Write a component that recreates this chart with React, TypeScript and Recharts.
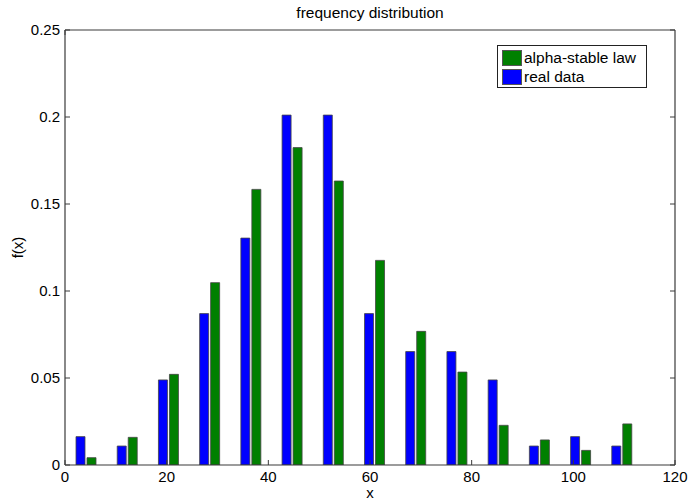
import React from 'react';
import { ComposedChart, Bar, XAxis, YAxis } from 'recharts';

const binCenters = [4.05, 12.16, 20.27, 28.37, 36.48, 44.59, 52.7, 60.81, 68.91, 77.02, 85.13, 93.24, 101.35, 109.45];
const realData = [0.0163, 0.0109, 0.0489, 0.087, 0.1304, 0.2011, 0.2011, 0.087, 0.0652, 0.0652, 0.0489, 0.0109, 0.0163, 0.0109];
const alphaStable = [0.0042, 0.0159, 0.0521, 0.1048, 0.1584, 0.1824, 0.1632, 0.1176, 0.0768, 0.0534, 0.0228, 0.0144, 0.0084, 0.0236];
const xTicks = [0, 20, 40, 60, 80, 100, 120];
const yTicks = [0, 0.05, 0.1, 0.15, 0.2, 0.25];
const seriesNames = { real: 'real data', alpha: 'alpha-stable law' };
const seriesColors = { real: '#0000ff', alpha: '#008000' };
const titleText = 'frequency distribution';
const xLabel = 'x';
const yLabel = 'f(x)';

const data = binCenters.map((x, i) => ({ x, real: realData[i], alpha: alphaStable[i] }));

const FONT = '"Liberation Sans", Arial, Helvetica, sans-serif';
const AXIS_COLOR = '#3a3a3a';
const TICK_LEN = 5;
const TM = 6;
const TM_Y = 5;

const BottomTick = (props: any) => {
  const { x, y, payload } = props;
  return (
    <g>
      <line x1={x} x2={x} y1={y - TM} y2={y - TM - TICK_LEN} stroke={AXIS_COLOR} strokeWidth={1} />
      <text x={x} y={y} dy="0.75em" textAnchor="middle" fontFamily={FONT} fontSize={15} fill="#000">
        {payload.value}
      </text>
    </g>
  );
};

const TopTick = (props: any) => {
  const { x, y } = props;
  return <line x1={x} x2={x} y1={y} y2={y + TICK_LEN} stroke={AXIS_COLOR} strokeWidth={1} />;
};

const LeftTick = (props: any) => {
  const { x, y, payload } = props;
  return (
    <g>
      <line x1={x + TM_Y} x2={x + TM_Y + TICK_LEN} y1={y} y2={y} stroke={AXIS_COLOR} strokeWidth={1} />
      <text x={x} y={y} dy="0.36em" textAnchor="end" fontFamily={FONT} fontSize={15} fill="#000">
        {String(payload.value)}
      </text>
    </g>
  );
};

const RightTick = (props: any) => {
  const { x, y } = props;
  return <line x1={x} x2={x - TICK_LEN} y1={y} y2={y} stroke={AXIS_COLOR} strokeWidth={1} />;
};

const legendItems = [
  { key: 'alpha', label: seriesNames.alpha, color: seriesColors.alpha },
  { key: 'real', label: seriesNames.real, color: seriesColors.real },
];

const LegendBox = () => (
  <div
    style={{
      position: 'absolute',
      left: 497,
      top: 45,
      border: '1px solid #222',
      background: '#fff',
      width: 150,
      height: 43,
      fontFamily: FONT,
      fontSize: 15.5,
      color: '#000',
      paddingTop: 3,
      boxSizing: 'border-box',
      zIndex: 3,
    }}
  >
    {legendItems.map((it) => (
      <div key={it.key} style={{ display: 'flex', alignItems: 'center', height: 18, marginBottom: 1 }}>
        <span
          style={{
            display: 'inline-block',
            width: 20,
            height: 16,
            background: it.color,
            marginLeft: 4,
            marginRight: 2,
            boxSizing: 'border-box',
            border: '1px solid #555',
          }}
        />
        <span style={{ lineHeight: '18px', whiteSpace: 'nowrap' }}>{it.label}</span>
      </div>
    ))}
  </div>
);

export default function App() {
  return (
    <div style={{ position: 'absolute', left: 0, top: 0, width: 688, height: 501, background: '#fff' }}>
      <div
        style={{
          position: 'absolute',
          left: 65,
          top: 3,
          width: 610,
          textAlign: 'center',
          fontFamily: FONT,
          fontSize: 15.5,
          lineHeight: '20px',
          color: '#000',
          zIndex: 2,
        }}
      >
        {titleText}
      </div>
      <LegendBox />
      <ComposedChart
        width={688}
        height={501}
        data={data}
        margin={{ top: 29, right: 12, bottom: 0, left: 0 }}
        barGap={2}
      >
        <XAxis
          dataKey="x"
          type="number"
          domain={[0, 120]}
          ticks={xTicks}
          allowDataOverflow
          height={36}
          tickSize={0}
          tickMargin={TM}
          tickLine={false}
          tick={<BottomTick />}
          axisLine={{ stroke: AXIS_COLOR, strokeWidth: 1.2 }}
          interval={0}
          label={{ value: xLabel, position: 'insideBottom', offset: 3, style: { fontFamily: FONT, fontSize: 15, fill: '#000' } }}
        />
        <XAxis
          xAxisId="top"
          orientation="top"
          type="number"
          domain={[0, 120]}
          ticks={xTicks}
          allowDataOverflow
          height={1}
          tickSize={0}
          tickMargin={0}
          tickLine={false}
          tick={<TopTick />}
          axisLine={{ stroke: AXIS_COLOR, strokeWidth: 1.2 }}
          interval={0}
        />
        <YAxis
          type="number"
          domain={[0, 0.25]}
          ticks={yTicks}
          allowDataOverflow
          width={65}
          tickSize={0}
          tickMargin={TM_Y}
          tickLine={false}
          tick={<LeftTick />}
          axisLine={{ stroke: AXIS_COLOR, strokeWidth: 1.2 }}
          interval={0}
          label={{
            value: yLabel,
            angle: -90,
            position: 'insideLeft',
            offset: 18,
            style: { textAnchor: 'middle', fontFamily: FONT, fontSize: 15, fill: '#000' },
          }}
        />
        <YAxis
          yAxisId="right"
          orientation="right"
          type="number"
          domain={[0, 0.25]}
          ticks={yTicks}
          allowDataOverflow
          width={1}
          tickSize={0}
          tickMargin={0}
          tickLine={false}
          tick={<RightTick />}
          axisLine={{ stroke: AXIS_COLOR, strokeWidth: 1.2 }}
          interval={0}
        />
        <Bar dataKey="real" name={seriesNames.real} fill={seriesColors.real} stroke="#444" strokeWidth={0.8} barSize={9} isAnimationActive={false} />
        <Bar dataKey="alpha" name={seriesNames.alpha} fill={seriesColors.alpha} stroke="#444" strokeWidth={0.8} barSize={9} isAnimationActive={false} />
      </ComposedChart>
    </div>
  );
}
